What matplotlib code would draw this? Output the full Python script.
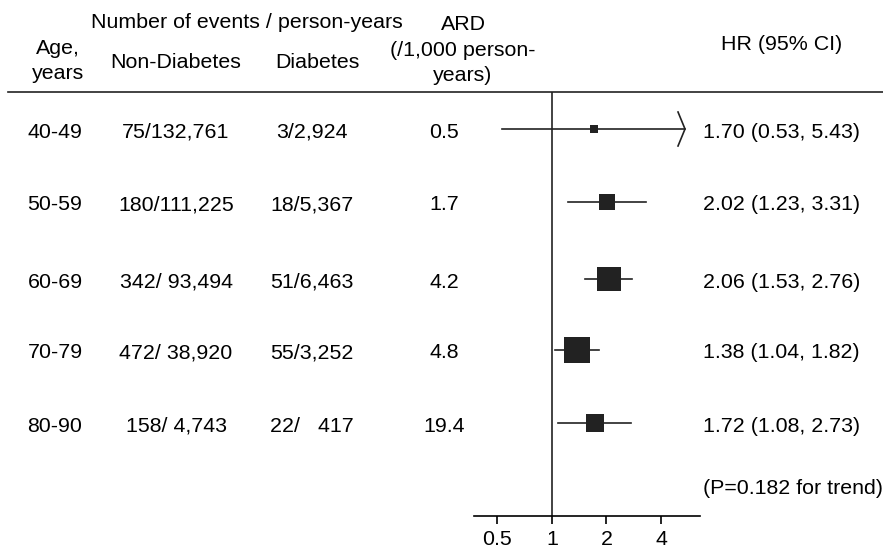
import matplotlib.pyplot as plt
import numpy as np

# dati
ages = ['40-49', '50-59', '60-69', '70-79', '80-90']
non_diab = ['75/132,761', '180/111,225', '342/ 93,494', '472/ 38,920', '158/ 4,743']
diab = ['3/2,924', '18/5,367', '51/6,463', '55/3,252', '22/   417']
ard = ['0.5', '1.7', '4.2', '4.8', '19.4']
hr = [1.70, 2.02, 2.06, 1.38, 1.72]
ci_lo = [0.53, 1.23, 1.53, 1.04, 1.08]
ci_hi = [5.43, 3.31, 2.76, 1.82, 2.73]
box_size = [9, 17, 25, 27, 18]  # lato del quadrato in pixel (peso)
p_trend = '(P=0.182 for trend)'
ticks = [0.5, 1, 2, 4]
tick_labels = ['0.5', '1', '2', '4']

plt.rcParams['font.family'] = ['Liberation Sans', 'DejaVu Sans']
fs = 15.4
col = '#222222'

W, H = 883, 550
fig = plt.figure(figsize=(W / 100, H / 100), dpi=100)

# asse di sfondo in pixel per testi e linea di intestazione
bg = fig.add_axes([0, 0, 1, 1])
bg.set_xlim(0, W)
bg.set_ylim(H, 0)
bg.axis('off')

row_y = [129, 202, 279, 350, 423]
p_y = 488

# intestazione
bg.text(247, 23, 'Number of events / person-years', ha='center', va='center', fontsize=fs)
bg.text(58, 61, 'Age,\nyears', ha='center', va='center', fontsize=fs, linespacing=1.45)
bg.text(176, 62, 'Non-Diabetes', ha='center', va='center', fontsize=fs)
bg.text(317, 62, 'Diabetes', ha='center', va='center', fontsize=fs)
bg.text(463, 50, 'ARD\n(/1,000 person-\nyears)', ha='center', va='center', fontsize=fs, linespacing=1.45)
bg.text(782, 44, 'HR (95% CI)', ha='center', va='center', fontsize=fs)
bg.plot([8, W], [92, 92], color=col, lw=1.2)

# righe della tabella
for i in range(len(ages)):
    y = row_y[i] + 3
    bg.text(55, y, ages[i], ha='center', va='center', fontsize=fs)
    bg.text(176, y, non_diab[i], ha='center', va='center', fontsize=fs)
    bg.text(312, y, diab[i], ha='center', va='center', fontsize=fs)
    bg.text(444, y, ard[i], ha='center', va='center', fontsize=fs)
    bg.text(703, y, f'{hr[i]:.2f} ({ci_lo[i]:.2f}, {ci_hi[i]:.2f})', ha='left', va='center', fontsize=fs)
bg.text(703, p_y, p_trend, ha='left', va='center', fontsize=fs)

# forest plot
ax = fig.add_axes([474 / W, 34 / H, 226 / W, 424 / H])
ax.set_xscale('log', base=2)
ax.set_xlim(0.371, 6.57)
ax.set_ylim(516, 92)
ax.patch.set_alpha(0)
for s in ['top', 'right', 'left']:
    ax.spines[s].set_visible(False)
ax.spines['bottom'].set_linewidth(1.2)
ax.set_yticks([])
ax.set_xticks(ticks)
ax.set_xticklabels(tick_labels)
ax.xaxis.set_minor_locator(plt.NullLocator())
ax.tick_params(axis='x', length=6, width=1.2, pad=4, labelsize=fs)
ax.axvline(1, color=col, lw=1.2)

for i in range(len(hr)):
    y = row_y[i]
    ax.plot([ci_lo[i], ci_hi[i]], [y, y], color=col, lw=1.2)
    ax.plot(hr[i], y, marker='s', color=col, markersize=box_size[i] / 1.39, markeredgewidth=0)
    if ci_hi[i] > ticks[-1]:
        # freccia aperta: intervallo troncato
        k = 2 ** (-7 / 54.5)
        ax.plot([ci_hi[i] * k, ci_hi[i], ci_hi[i] * k], [y - 17, y, y + 17], color=col, lw=1.2)

fig.savefig('out.png', dpi=100)
